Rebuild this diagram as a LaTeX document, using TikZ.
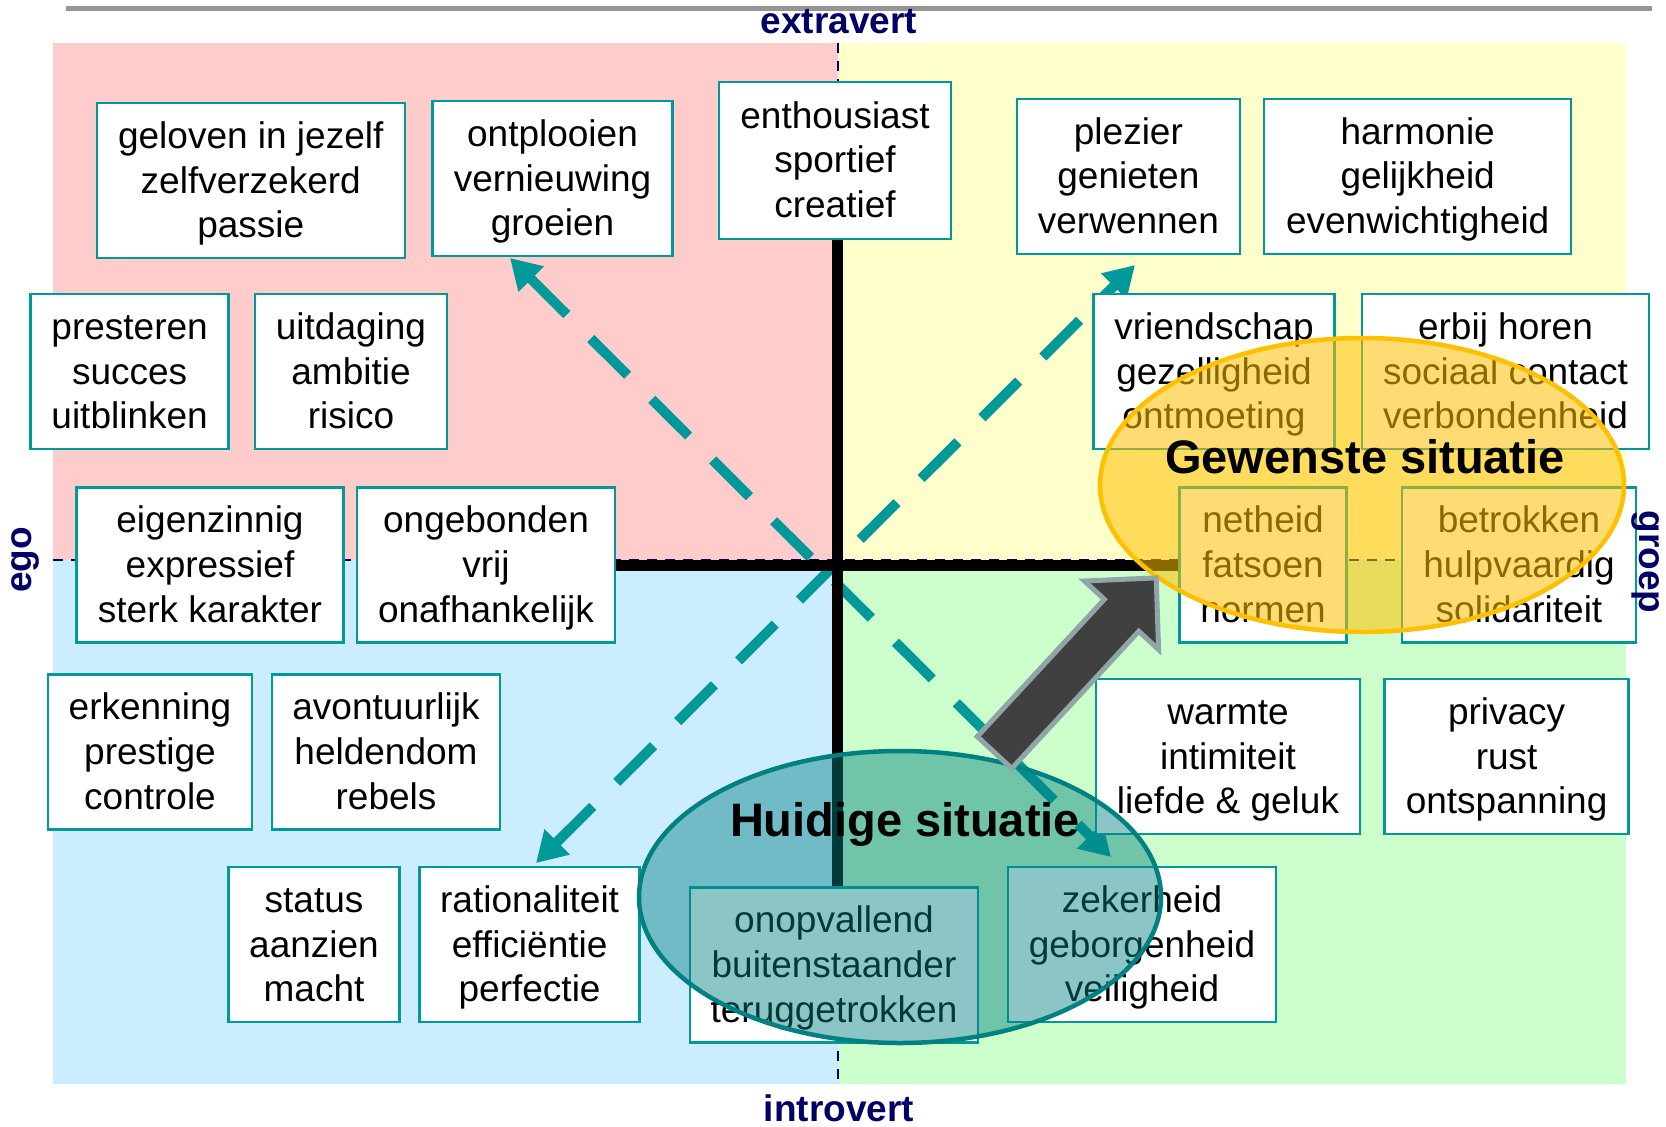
\documentclass[tikz,border=0pt]{standalone}
\usepackage{fontspec}
\setmainfont{Liberation Sans}
\usetikzlibrary{arrows.meta}
\definecolor{qpink}{RGB}{255,204,204}
\definecolor{qyellow}{RGB}{255,255,204}
\definecolor{qblue}{RGB}{204,236,255}
\definecolor{qgreen}{RGB}{204,255,204}
\definecolor{boxteal}{RGB}{0,153,153}
\definecolor{navy}{RGB}{0,0,102}
\definecolor{ringteal}{RGB}{0,128,128}
\definecolor{ringorange}{RGB}{255,192,0}
\definecolor{arrowdark}{RGB}{64,64,64}
\definecolor{arrowedge}{RGB}{143,165,168}
\definecolor{topgray}{RGB}{150,150,150}
\newcommand{\toprule}{\rule{0pt}{34pt}}
\newcommand{\botrule}{\rule[-9pt]{0pt}{9pt}}
\newcommand{\tl}[3]{\toprule#1\\#2\\#3\botrule}
\pgfdeclarelayer{quad}
\pgfdeclarelayer{lines}
\pgfdeclarelayer{over}
\pgfsetlayers{quad,lines,main,over}
\begin{document}
\begin{tikzpicture}[x=1pt,y=-1pt,
  vbox/.style={draw=boxteal, line width=2.5pt, fill=white, inner sep=0pt,
    align=center, font=\fontsize{37}{44.6}\selectfont},
  axlabel/.style={text=navy, font=\bfseries\fontsize{37}{44}\selectfont, inner sep=0pt},
  sitlabel/.style={text=black, font=\bfseries\fontsize{47}{50}\selectfont, inner sep=0pt},
  axisdash/.style={navy, line width=2pt, dash pattern=on 10pt off 8pt},
  crossline/.style={black, line width=11pt},
  tealarrow/.style={boxteal, line width=10pt, dash pattern=on 52pt off 34pt,
    {Triangle[length=30pt,width=34pt]}-{Triangle[length=30pt,width=34pt]}},
  ring/.style={line width=4.5pt}
]
\useasboundingbox (0,0) rectangle (1666,1127);

% boxes
\node[vbox, minimum width=308pt, minimum height=155pt] (b1) at (250.75,180.5) {\tl{geloven in jezelf}{zelfverzekerd}{passie}};
\node[vbox, minimum width=240pt, minimum height=155pt] (b2) at (552.5,178.5) {\tl{ontplooien}{vernieuwing}{groeien}};
\node[vbox, minimum width=232pt, minimum height=157pt] (b3) at (835,160.4) {\tl{enthousiast}{sportief}{creatief}};
\node[vbox, minimum width=223pt, minimum height=155pt] (b4) at (1128.4,176.4) {\tl{plezier}{genieten}{verwennen}};
\node[vbox, minimum width=307pt, minimum height=155pt] (b5) at (1417.7,176.4) {\tl{harmonie}{gelijkheid}{evenwichtigheid}};
\node[vbox, minimum width=198pt, minimum height=155pt] (b6) at (129.6,371.7) {\tl{presteren}{succes}{uitblinken}};
\node[vbox, minimum width=192pt, minimum height=155pt] (b7) at (351,371.7) {\tl{uitdaging}{ambitie}{risico}};
\node[vbox, minimum width=241pt, minimum height=155pt] (b8) at (1214,371.7) {\tl{vriendschap}{gezelligheid}{ontmoeting}};
\node[vbox, minimum width=287pt, minimum height=155pt] (b9) at (1505.5,371.7) {\tl{erbij horen}{sociaal contact}{verbondenheid}};
\node[vbox, minimum width=267pt, minimum height=155pt] (b10) at (210,565) {\tl{eigenzinnig}{expressief}{sterk karakter}};
\node[vbox, minimum width=258pt, minimum height=155pt] (b11) at (486,565) {\tl{ongebonden}{vrij}{onafhankelijk}};
\node[vbox, minimum width=167pt, minimum height=155pt] (b12) at (1263,565) {\tl{netheid}{fatsoen}{normen}};
\node[vbox, minimum width=234pt, minimum height=155pt] (b13) at (1519,565) {\tl{betrokken}{hulpvaardig}{solidariteit}};
\node[vbox, minimum width=204pt, minimum height=155pt] (b14) at (150,752) {\tl{erkenning}{prestige}{controle}};
\node[vbox, minimum width=228pt, minimum height=155pt] (b15) at (386,752) {\tl{avontuurlijk}{heldendom}{rebels}};
\node[vbox, minimum width=264pt, minimum height=155pt] (b16) at (1228,756.5) {\tl{warmte}{intimiteit}{liefde \& geluk}};
\node[vbox, minimum width=244pt, minimum height=155pt] (b17) at (1506.6,756.5) {\tl{privacy}{rust}{ontspanning}};
\node[vbox, minimum width=171pt, minimum height=155pt] (b18) at (314,944.5) {\tl{status}{aanzien}{macht}};
\node[vbox, minimum width=220pt, minimum height=155pt] (b19) at (529.6,944.5) {\tl{rationaliteit}{efficiëntie}{perfectie}};
\node[vbox, minimum width=288pt, minimum height=155pt] (b20) at (834,965) {\tl{onopvallend}{buitenstaander}{teruggetrokken}};
\node[vbox, minimum width=268pt, minimum height=155pt] (b21) at (1142,944.5) {\tl{zekerheid}{geborgenheid}{veiligheid}};

% key coordinates
\coordinate (O) at (837,565);
\coordinate (vtop) at (838,42.5);
\coordinate (vbot) at (838,1084);
\coordinate (hleft) at (53,560);
\coordinate (hright) at (1626,560);
\coordinate (nw) at (510,258);
\coordinate (se) at (1111,857);
\coordinate (sw) at (536,863);
\coordinate (ne) at (1135,265);
\coordinate (gl) at (66,8);
\coordinate (gr) at (1652,8);

\begin{pgfonlayer}{quad}
  \fill[qpink] (53,42.5) rectangle (838,560);
  \fill[qyellow] (838,42.5) rectangle (1626,560);
  \fill[qblue] (53,560) rectangle (838,1084);
  \fill[qgreen] (838,560) rectangle (1626,1084);
  \draw[topgray, line width=5pt] (gl) -- (gr);
\end{pgfonlayer}

\begin{pgfonlayer}{lines}
  \draw[axisdash] (vtop) -- (vbot);
  \draw[axisdash] (hleft) -- (hright);
  \draw[tealarrow] (nw) -- (se);
  \draw[tealarrow] (sw) -- (ne);
  \draw[crossline] (b3.south -| O) -- (b20.north -| O);
  \draw[crossline] (b11.east |- O) -- (b12.west |- O);
\end{pgfonlayer}

\begin{pgfonlayer}{over}
  \node[axlabel] (extra) at (839,22) {extravert};
  \node[axlabel] (intro) at (839,1108) {introvert};
  \node[axlabel, rotate=90] (ego) at (25,560) {ego};
  \node[axlabel, rotate=-90] (groep) at (1646,562) {groep};

  % current situation
  \draw[ring, draw=ringteal, fill=ringteal, fill opacity=0.45] (900,897) ellipse [x radius=261pt, y radius=146pt];
  % desired situation
  \draw[ring, draw=ringorange, fill=ringorange, fill opacity=0.55] (1362,485) ellipse [x radius=262pt, y radius=147pt];

  \begin{scope}[shift={(994.5,752.5)}, rotate=47.2]
    \draw[fill=arrowdark, draw=arrowedge, line width=5pt, line join=miter]
      (0,-23.5) -- (187,-23.5) -- (187,-50.5) -- (238,0) -- (187,50.5) -- (187,23.5) -- (0,23.5) -- cycle;
  \end{scope}

  \node[sitlabel] (huidig) at (905,824) {Huidige situatie};
  \node[sitlabel] (gewenst) at (1365,457) {Gewenste situatie};
\end{pgfonlayer}
\end{tikzpicture}
\end{document}
